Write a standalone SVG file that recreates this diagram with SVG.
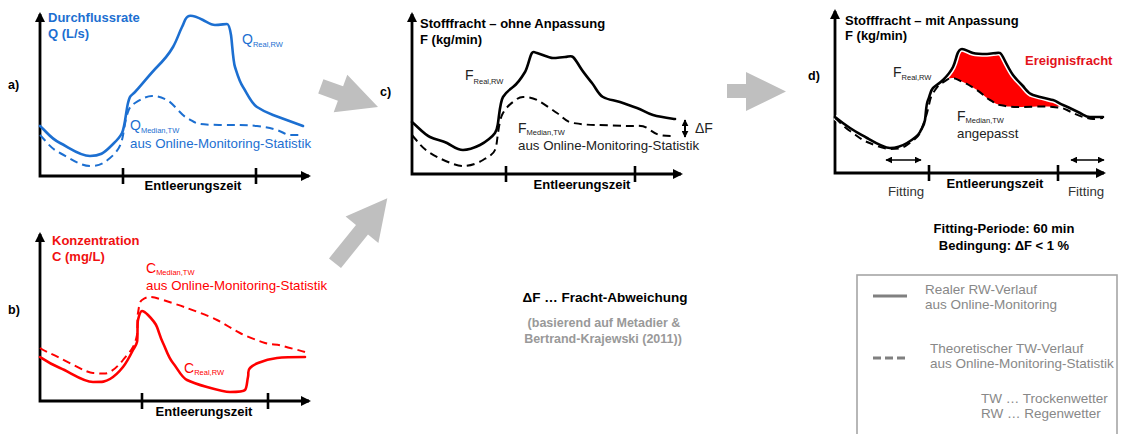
<svg xmlns="http://www.w3.org/2000/svg" width="1121" height="434" viewBox="0 0 1121 434">
<defs>
<marker id="ax" viewBox="0 0 10 10" refX="8" refY="5" markerWidth="10" markerHeight="10" markerUnits="userSpaceOnUse" orient="auto-start-reverse"><path d="M0,0 L10,5 L0,10 z" fill="#000"/></marker>
<marker id="sa" viewBox="0 0 10 10" refX="9" refY="5" markerWidth="7" markerHeight="7" markerUnits="userSpaceOnUse" orient="auto-start-reverse"><path d="M0,0 L10,5 L0,10 z" fill="#000"/></marker>
<style>
.axis{fill:none;stroke:#000;stroke-width:2.8;marker-start:url(#ax);marker-end:url(#ax)}
.tick{stroke:#000;stroke-width:2.6}
.sol{fill:none;stroke-width:2.6;stroke-linejoin:round;stroke-linecap:round}
.dash{fill:none;stroke-width:2;stroke-dasharray:8 5}
.blue{stroke:#1c6fd1}
.red{stroke:#ff0000}
.blk{stroke:#000}
text{font-family:"Liberation Sans",Arial,sans-serif}
.b{font-weight:bold}
.lab{font-size:12.5px;font-weight:bold;fill:#000}
.ttl{font-size:13px;font-weight:bold}
.ax{font-size:13px;font-weight:bold;fill:#000;text-anchor:middle}
.cur{font-size:14px}
.sub{font-size:7.5px}
.st{font-size:13.3px}
.lg{font-size:13.5px;fill:#888}
.conn{fill:#bfbfbf}
</style>
</defs>

<g id="connectors">
<polygon class="conn" points="323.4,79.2 343.1,86.3 347.3,74.7 378,107 333.7,112.3 337.9,100.7 318.2,93.6"/>
<polygon class="conn" points="329,258.4 356,224.9 345.6,216.5 387.3,198.3 378.4,242.9 368,234.5 341,268"/>
<polygon class="conn" points="727,84 746,84 746,72 786,91.5 746,111 746,98 727,98"/>
</g>

<g id="panel-a">
<text x="8" y="89" class="lab">a)</text>
<path class="axis" d="M40,14 L40,176 L309,176"/>
<line class="tick" x1="123" y1="168" x2="123" y2="184"/>
<line class="tick" x1="256" y1="168" x2="256" y2="184"/>
<text x="193" y="190" class="ax">Entleerungszeit</text>
<text x="48" y="21.5" class="ttl" fill="#1c6fd1">Durchflussrate</text>
<text x="48" y="38" class="ttl" fill="#1c6fd1">Q (L/s)</text>
<path class="sol blue" d="M40,126 C47,132 50,138 60,143 S80,156 90,156 S104,153 110,147 S119,139 122,133 S126,111 128,103 S130,97 135,92 S150,74 157,67 S169,54 173,47 S179,33 182,27 S185,17 189,16 S199,18 203,20 S211,25 215,25 S225,24 227,24 S230,29 231,35 S233,61 235,67 S239,81 243,87 S251,103 257,107 S265,112 273,115 S295,123 303,126"/>
<path class="dash blue" d="M40,135 C46,141 50,148 60,153 S80,166 90,166 S104,163 110,158 S120,148 122,140 S125,121 127,115 S129,107 135,103 S147,96 152,96 S161,97 167,100 S181,115 187,118 S194,123 200,124 S223,125 233,125 S249,125 257,126 S271,128 277,130 S286,135 290,135 S298,135 302,135"/>
<text x="242" y="44" class="cur" fill="#1c6fd1">Q<tspan class="sub" dy="3">Real,RW</tspan></text>
<text x="130" y="130" class="cur" fill="#1c6fd1">Q<tspan class="sub" dy="3">Median,TW</tspan></text>
<text x="130" y="148" class="st" fill="#1c6fd1">aus Online-Monitoring-Statistik</text>
</g>

<g id="panel-b">
<text x="8" y="314" class="lab">b)</text>
<path class="axis" d="M40,234 L40,401 L309,401"/>
<line class="tick" x1="142" y1="393" x2="142" y2="409"/>
<line class="tick" x1="268" y1="393" x2="268" y2="409"/>
<text x="204" y="416" class="ax">Entleerungszeit</text>
<text x="52" y="245" class="ttl" fill="#f01010">Konzentration</text>
<text x="52" y="261" class="ttl" fill="#f01010">C (mg/L)</text>
<path class="sol red" d="M40,357 C46,361 50,364 60,368 S83,382 93,382 S105,382 110,379 S119,372 123,367 S131,354 133,350 S136,346 137,342 S137,324 138,320 S140,311 142,311 S145,312 148,315 S155,322 157,327 S160,337 163,343 S168,357 173,363 S181,377 187,380 S200,385 207,387 S225,392 230,392 S243,392 245,390 S247,381 248,377 S247,371 250,368 S253,365 258,363 S269,359 277,358 S297,357 305,357"/>
<path class="dash red" d="M40,348 C46,352 50,353 60,358 S87,373 93,373 S105,375 110,372 S119,365 123,360 S131,351 133,347 S136,340 137,335 S137,318 138,313 S139,302 142,300 S147,297 150,297 S157,298 163,300 S179,305 187,308 S209,316 217,320 S232,329 240,333 S259,341 265,343 S277,344 283,346 S299,350 305,352"/>
<text x="146" y="273" class="cur" fill="#ff0000">C<tspan class="sub" dy="2">Median,TW</tspan></text>
<text x="146" y="290" class="st" fill="#ff0000">aus Online-Monitoring-Statistik</text>
<text x="184" y="373" class="cur" fill="#ff0000">C<tspan class="sub" dy="2">Real,RW</tspan></text>
</g>

<g id="panel-c">
<text x="380" y="96" class="lab">c)</text>
<path class="axis" d="M412,14 L412,174 L681,174"/>
<line class="tick" x1="506" y1="166" x2="506" y2="182"/>
<line class="tick" x1="635" y1="166" x2="635" y2="182"/>
<text x="582" y="189" class="ax">Entleerungszeit</text>
<text x="420" y="28" class="ttl" fill="#000">Stofffracht – ohne Anpassung</text>
<text x="420" y="44" class="ttl" fill="#000">F (kg/min)</text>
<path class="sol blk" d="M412,122 C418,127 424,134 430,137 S441,140 447,143 S457,150 463,150 S474,148 480,145 S493,136 495,133 S497,129 498,123 S500,102 503,97 S509,90 513,87 S522,77 525,72 S530,55 532,53 S533,52 537,53 S549,58 553,58 S562,57 565,57 S571,55 573,57 S577,62 580,67 S588,78 592,83 S598,94 603,97 S614,100 620,102 S631,106 637,108 S646,113 653,115 S668,118 675,119"/>
<path class="dash blk" d="M412,135 C418,142 422,148 430,153 S455,166 463,166 S478,163 483,160 S493,155 495,150 S497,139 498,133 S500,118 503,113 S509,105 513,102 S519,97 523,97 S531,97 537,100 S551,109 557,113 S566,122 573,123 S587,125 597,125 S624,126 630,126 S642,125 647,128 S655,134 660,135 S670,136 675,136"/>
<text x="465" y="80" class="cur" fill="#222">F<tspan class="sub" dy="4">Real,RW</tspan></text>
<text x="518" y="133" class="cur" fill="#222">F<tspan class="sub" dy="2">Median,TW</tspan></text>
<text x="518" y="150" class="st" fill="#222">aus Online-Monitoring-Statistik</text>
<line x1="685" y1="120" x2="685" y2="137" stroke="#000" stroke-width="2" marker-start="url(#sa)" marker-end="url(#sa)"/>
<text x="695" y="133" class="cur" fill="#222">ΔF</text>
</g>

<g id="panel-d">
<text x="808" y="80" class="lab">d)</text>
<path class="axis" d="M835,11 L835,173 L1104,173"/>
<line class="tick" x1="929" y1="165" x2="929" y2="181"/>
<line class="tick" x1="1058" y1="165" x2="1058" y2="181"/>
<text x="995" y="188" class="ax">Entleerungszeit</text>
<text x="845" y="24.5" class="ttl" fill="#000">Stofffracht – mit Anpassung</text>
<text x="845" y="40" class="ttl" fill="#000">F (kg/min)</text>
<path fill="#ff0000" d="M942,82 C948,76 951,71 953,67 S956,58 957,55 S959,49 962,49 S969,52 973,53 S983,54 987,54 S999,52 1000,53 S1001,53 1003,57 S1010,71 1013,75 S1018,81 1022,85 S1027,93 1033,95 S1049,99 1053,100 S1058,103 1062,106 L1053,107 C1047,106 1025,107 1017,107 S1005,106 1000,105 S994,102 990,100 S982,93 977,90 S968,84 963,82 S956,78 952,78 S946,81 942,83 Z"/>
<path fill="none" stroke="#fff" stroke-width="5.5" d="M835,117 C840,121 844,124 850,128 S860,134 867,138 S884,148 890,148 S902,146 907,143 S918,136 920,132 S924,126 925,120 S926,104 928,100 S930,91 933,88 S939,84 943,80 S951,71 953,67 S956,58 957,55 S959,49 962,49 S969,52 973,53 S983,54 987,54 S999,52 1000,53 S1001,53 1003,57 S1010,71 1013,75 S1018,81 1022,85 S1027,93 1033,95 S1049,99 1053,100 S1058,103 1063,105 S1076,111 1080,113 S1086,117 1090,117 S1099,117 1103,117"/>
<path class="dash blk" stroke-width="2.4" d="M835,118 C840,122 844,127 850,131 S860,139 867,142 S884,149 890,149 S902,149 907,145 S918,138 920,133 S925,120 927,113 S930,97 933,93 S938,85 942,83 S948,78 952,78 S958,80 963,82 S972,87 977,90 S986,98 990,100 S995,104 1000,105 S1009,107 1017,107 S1047,106 1053,107 S1061,107 1067,110 S1079,116 1083,117 S1090,119 1093,119 S1100,118 1103,118"/>
<path class="sol blk" d="M835,117 C840,121 844,124 850,128 S860,134 867,138 S884,148 890,148 S902,146 907,143 S918,136 920,132 S924,126 925,120 S926,104 928,100 S930,91 933,88 S939,84 943,80 S951,71 953,67 S956,58 957,55 S959,49 962,49 S969,52 973,53 S983,54 987,54 S999,52 1000,53 S1001,53 1003,57 S1010,71 1013,75 S1018,81 1022,85 S1027,93 1033,95 S1049,99 1053,100 S1058,103 1063,105 S1076,111 1080,113 S1086,117 1090,117 S1099,117 1103,117"/>
<text x="1025" y="65" class="ttl" font-size="13.3" fill="#e3131b">Ereignisfracht</text>
<text x="893" y="77" class="cur" fill="#222">F<tspan class="sub" dy="3">Real,RW</tspan></text>
<text x="957" y="121" class="cur" fill="#222">F<tspan class="sub" dy="2">Median,TW</tspan></text>
<text x="957" y="138" class="st" fill="#222">angepasst</text>
<line x1="886" y1="160" x2="921" y2="160" stroke="#000" stroke-width="1.6" marker-start="url(#sa)" marker-end="url(#sa)"/>
<line x1="1071" y1="160" x2="1104" y2="160" stroke="#000" stroke-width="1.6" marker-start="url(#sa)" marker-end="url(#sa)"/>
<text x="888" y="196" class="st" fill="#333">Fitting</text>
<text x="1068" y="196" class="st" fill="#333">Fitting</text>
<text x="1004" y="233" class="ttl" font-size="13.3" fill="#000" text-anchor="middle">Fitting-Periode: 60 min</text>
<text x="1004" y="250" class="ttl" font-size="13.3" fill="#000" text-anchor="middle">Bedingung: ΔF &lt; 1 %</text>
</g>

<g id="note">
<text x="605" y="302" class="b" font-size="13.5" fill="#000" text-anchor="middle">ΔF … Fracht-Abweichung</text>
<text x="604" y="327" class="b" font-size="12.5" fill="#999" text-anchor="middle">(basierend auf Metadier &amp;</text>
<text x="603" y="343" class="b" font-size="12.5" fill="#999" text-anchor="middle">Bertrand-Krajewski (2011))</text>
</g>

<g id="legend">
<rect x="857" y="275" width="260" height="170" fill="none" stroke="#a6a6a6" stroke-width="1.6"/>
<line x1="873" y1="296" x2="907" y2="296" stroke="#808080" stroke-width="3"/>
<text x="925" y="294" class="lg">Realer RW-Verlauf</text>
<text x="925" y="309" class="lg">aus Online-Monitoring</text>
<line x1="873" y1="358" x2="908" y2="358" stroke="#808080" stroke-width="3" stroke-dasharray="8 4"/>
<text x="930" y="353" class="lg">Theoretischer TW-Verlauf</text>
<text x="930" y="368" class="lg">aus Online-Monitoring-Statistik</text>
<text x="981" y="403" class="lg">TW … Trockenwetter</text>
<text x="981" y="418" class="lg">RW … Regenwetter</text>
</g>
</svg>
